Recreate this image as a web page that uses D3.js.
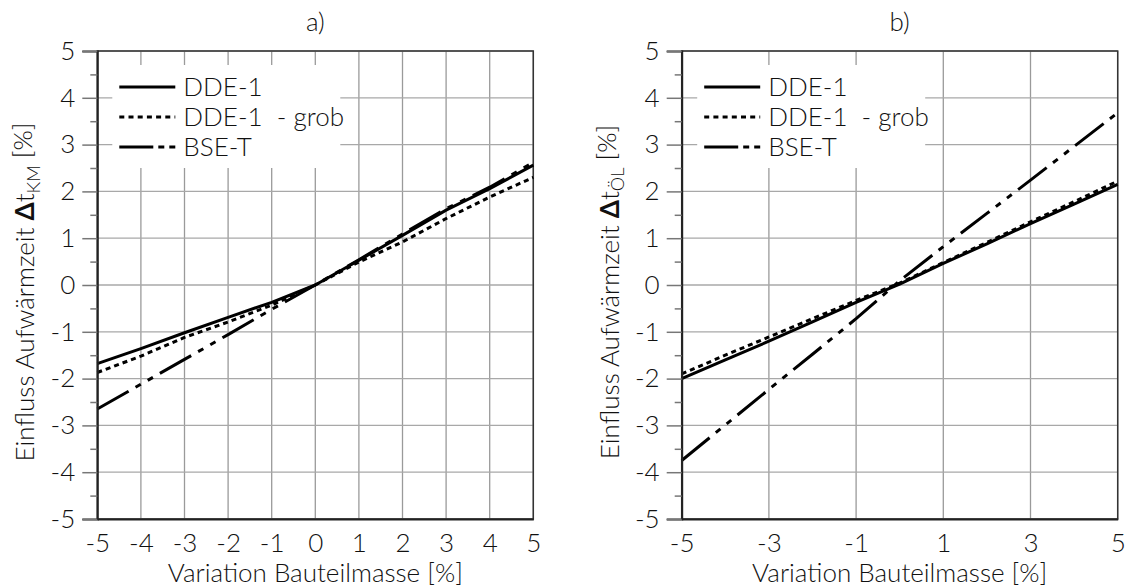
<!DOCTYPE html>
<html>
<head>
<meta charset="utf-8">
<script src="https://cdn.jsdelivr.net/npm/d3@7"></script>
<style>
  html, body { margin: 0; padding: 0; background: #fff; }
  svg text { font-family: "Lato", "Open Sans", sans-serif; font-weight: 300; fill: #111; }
</style>
</head>
<body>
<svg id="chart" width="1127" height="587"></svg>
<script>
// values
const xValues = [-5, -4, -3, -2, -1, 0, 1, 2, 3, 4, 5];

// a) Kühlmittel
const kmDDE     = [-1.68, -1.36, -1.02, -0.69, -0.37, 0, 0.53, 1.06, 1.60, 2.06, 2.56];
const kmDDEgrob = [-1.87, -1.52, -1.12, -0.79, -0.43, 0, 0.49, 0.92, 1.42, 1.88, 2.30];
const kmBSE     = [-2.65, -2.12, -1.59, -1.06, -0.52, 0, 0.54, 1.09, 1.63, 2.09, 2.62];

// b) Öl
const olDDE     = [-2.00, -1.60, -1.20, -0.79, -0.37, 0.02, 0.46, 0.88, 1.31, 1.73, 2.15];
const olDDEgrob = [-1.90, -1.50, -1.11, -0.72, -0.33, 0.04, 0.48, 0.91, 1.35, 1.78, 2.22];
const olBSE     = [-3.75, -2.99, -2.23, -1.48, -0.72, 0.09, 0.82, 1.53, 2.24, 2.96, 3.68];

const seriesNames = ["DDE-1", "DDE-1  - grob", "BSE-T"];
const xTicksA = [-5, -4, -3, -2, -1, 0, 1, 2, 3, 4, 5];
const xTicksB = [-5, -3, -1, 1, 3, 5];
const yTicks = [-5, -4, -3, -2, -1, 0, 1, 2, 3, 4, 5];
const yMinorTicks = [-4.5, -3.5, -2.5, -1.5, -0.5, 0.5, 1.5, 2.5, 3.5, 4.5];
const xTitle = "Variation Bauteilmasse [%]";

const fontSize = 26;
const dashStyles = [null, "5,4", "36,8,6,8,6,8"];
const legendDash = [null, "5,4.2", "34,5,6,5,6"];

const svg = d3.select("#chart");

function drawPanel(opts) {
    const margin = { left: opts.left, top: 51 };
    const width = 436, height = 468;

    const g = svg.append("g")
        .attr("transform", `translate(${margin.left}, ${margin.top})`);

    const x = d3.scaleLinear().domain([-5, 5]).range([0, width]);
    const y = d3.scaleLinear().domain([-5, 5]).range([height, 0]);

    // grid
    g.append("g").selectAll("line")
        .data(opts.xTicks)
        .join("line")
        .attr("x1", d => x(d)).attr("x2", d => x(d))
        .attr("y1", 0).attr("y2", height)
        .attr("stroke", "#9a9a9a").attr("stroke-width", 1.3);

    g.append("g").selectAll("line")
        .data(yTicks)
        .join("line")
        .attr("x1", 0).attr("x2", width)
        .attr("y1", d => y(d)).attr("y2", d => y(d))
        .attr("stroke", "#a8a8a8").attr("stroke-width", 1.3);

    // frame
    g.append("rect")
        .attr("width", width).attr("height", height)
        .attr("fill", "none").attr("stroke", "#333").attr("stroke-width", 1.5);

    // legend box hides grid
    const lg = g.append("g").attr("transform", `translate(${opts.legendX}, 14)`);
    lg.append("rect")
        .attr("x", 0).attr("y", 0)
        .attr("width", 228).attr("height", 103)
        .attr("fill", "#fff");

    seriesNames.forEach((name, i) => {
        const cy = 22 + i * 30;
        lg.append("line")
            .attr("x1", 7).attr("x2", 63)
            .attr("y1", cy).attr("y2", cy)
            .attr("stroke", "#000").attr("stroke-width", 3)
            .attr("stroke-dasharray", legendDash[i]);
        lg.append("text")
            .attr("x", 71).attr("y", cy)
            .attr("dy", "0.35em")
            .style("font-size", `${fontSize}px`)
            .style("white-space", "pre")
            .text(name);
    });

    // data lines
    const line = d3.line()
        .x((d, i) => x(xValues[i]))
        .y(d => y(d));

    opts.series.forEach((s, i) => {
        g.append("path")
            .datum(s)
            .attr("d", line)
            .attr("fill", "none")
            .attr("stroke", "#000")
            .attr("stroke-width", 3)
            .attr("stroke-linejoin", "round")
            .attr("stroke-dasharray", dashStyles[i]);
    });

    // y axis
    const yAxis = d3.axisLeft(y)
        .tickValues(yTicks)
        .tickSize(15)
        .tickPadding(7)
        .tickFormat(d => String(d));
    const ya = g.append("g").call(yAxis);
    ya.select(".domain").attr("stroke", "#222").attr("stroke-width", 2);
    ya.selectAll(".tick line").attr("stroke", "#777").attr("stroke-width", 1.5);
    ya.selectAll("text")
        .style("font-size", `${fontSize}px`)
        .attr("fill", "#111");

    const yMinor = d3.axisLeft(y)
        .tickValues(yMinorTicks)
        .tickSize(7)
        .tickFormat("");
    const ym = g.append("g").call(yMinor);
    ym.select(".domain").remove();
    ym.selectAll(".tick line").attr("stroke", "#777").attr("stroke-width", 1.5);

    // x axis
    const xAxis = d3.axisBottom(x)
        .tickValues(opts.xTicks)
        .tickSize(0)
        .tickPadding(15)
        .tickFormat(d => String(d));
    const xa = g.append("g")
        .attr("transform", `translate(0, ${height})`)
        .call(xAxis);
    xa.select(".domain").attr("stroke", "#222").attr("stroke-width", 2.2);
    xa.selectAll("text")
        .style("font-size", `${fontSize}px`)
        .attr("fill", "#111");

    // titles
    g.append("text")
        .attr("x", width / 2).attr("y", -29)
        .attr("dy", "0.35em")
        .attr("text-anchor", "middle")
        .style("font-size", `${fontSize}px`)
        .text(opts.title);

    g.append("text")
        .attr("x", width / 2).attr("y", height + 54)
        .attr("dy", "0.35em")
        .attr("text-anchor", "middle")
        .style("font-size", `${fontSize}px`)
        .text(xTitle);

    const yt = g.append("text")
        .attr("transform", `translate(${opts.yTitleX}, ${height / 2 + 7}) rotate(-90)`)
        .attr("dy", "0.35em")
        .attr("text-anchor", "middle")
        .style("font-size", `${fontSize}px`);
    yt.append("tspan").text("Einfluss Aufwärmzeit ");
    yt.append("tspan").style("font-weight", "bold").text("Δ");
    yt.append("tspan").text("t");
    yt.append("tspan")
        .attr("dy", "0.3em")
        .style("font-size", `${fontSize * 0.7}px`)
        .text(opts.sub);
    yt.append("tspan")
        .attr("dy", "-0.3em")
        .style("font-size", `${fontSize}px`)
        .text(" [%]");
}

drawPanel({
    left: 97.3,
    title: "a)",
    sub: "KM",
    xTicks: xTicksA,
    series: [kmDDE, kmDDEgrob, kmBSE],
    legendX: 15,
    yTitleX: -72
});

drawPanel({
    left: 681.7,
    title: "b)",
    sub: "ÖL",
    xTicks: xTicksB,
    series: [olDDE, olDDEgrob, olBSE],
    legendX: 15.5,
    yTitleX: -72
});
</script>
</body>
</html>
